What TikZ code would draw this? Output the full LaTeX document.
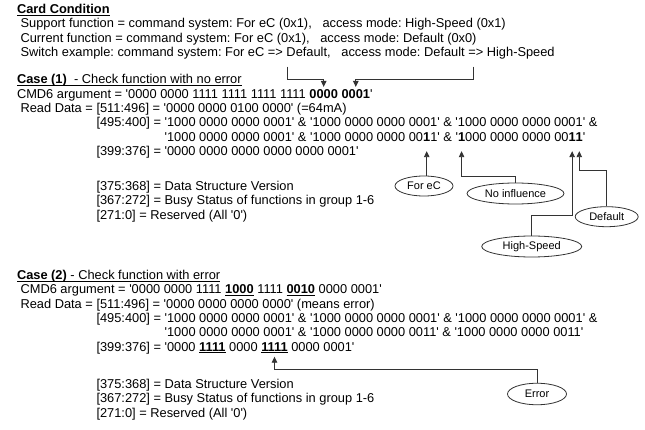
\documentclass[tikz,border=0pt]{standalone}
\usepackage{fontspec}
\setmainfont{Liberation Sans}[Ligatures=TeXOff]
\usetikzlibrary{arrows.meta,shapes.geometric,calc}
\newcommand\uln[1]{\setbox0=\hbox{#1}\rlap{\rule[-2.3pt]{\wd0}{0.9pt}}\box0\relax}
\frenchspacing
\begin{document}
\begin{tikzpicture}[x=1pt,y=-1pt,
  txt/.style={inner sep=0pt, outer sep=0pt, anchor=base west, font=\fontsize{12.83}{14.3}\selectfont},
  lbl/.style={draw=black!80, line width=0.8pt, ellipse, inner sep=0pt, font=\fontsize{11}{12}\selectfont},
  conn/.style={draw=black!80, line width=0.9pt, -{Triangle[length=6pt,width=5.5pt]}}]
\fill[white] (0,0) rectangle (645,430);
\useasboundingbox (0,0) rectangle (645,430);

% ---- Card condition
\node[txt] (cardc) at (17,13.5) {\uln{\textbf{Card Condition}}};
\node[txt] (sup) at (17,27.9) {~Support function = command system: For eC (0x1),~~~access mode: High-Speed (0x1)};
\node[txt] (cur) at (17,42.3) {~Current function = command system: For eC (0x1),~~~access mode: Default (0x0)};
\node[txt] (sw) at (17,56.7) {~Switch example: command system: For eC => Default,~~~access mode: Default => High-Speed};
\coordinate (swL) at (287.3,66.7);
\coordinate (swR) at (473.3,66.7);

% ---- Case 1
\node[txt] (case1) at (17,84) {\uln{\textbf{Case (1)}~~- Check function with no error}};
\node[txt] (cmdA) at (17,98.3) {CMD6 argument = '0000 0000 1111 1111 1111 1111~\null};
\node[txt] (cmdB) at (cmdA.base east) {\textbf{0000}};
\node[txt] (cmdC) at ($(cmdB.base east)+(3.57,0)$) {\textbf{0001}};
\node[txt] (cmdD) at (cmdC.base east) {'};
\node[txt] (rdA) at (17,112.6) {~Read Data =~\null};
\node[txt] (rdB) at (rdA.base east) {[511:496] = '0000 0000 0100 0000' (=64mA)};
\node[txt] (r1a) at (rdB.base west |- 0,126.9) {[495:400] =~\null};
\node[txt] (r1c) at (r1a.base east) {'1000 0000 0000 0001' \& '1000 0000 0000 0001' \& '1000 0000 0000 0001' \&};
\node[txt] (l2a) at (r1c.base west |- 0,141.2) {'1000 0000 0000 0001' \& '1000 0000 0000 00};
\node[txt] (l2b) at (l2a.base east) {\textbf{1}};
\node[txt] (l2c) at (l2b.base east) {1' \& '};
\node[txt] (l2d) at (l2c.base east) {\textbf{1}};
\node[txt] (l2e) at (l2d.base east) {000 0000 0000 00};
\node[txt] (l2f) at (l2e.base east) {\textbf{1}};
\node[txt] (l2g) at (l2f.base east) {\textbf{1}};
\node[txt] (l2h) at (l2g.base east) {'};
\node[txt] (r3) at (rdB.base west |- 0,155.5) {[399:376] = '0000 0000 0000 0000 0000 0001'};
\node[txt] (r4) at (rdB.base west |- 0,190.5) {[375:368] = Data Structure Version};
\node[txt] (r5) at (rdB.base west |- 0,204.8) {[367:272] = Busy Status of functions in group 1-6};
\node[txt] (r6) at (rdB.base west |- 0,219.1) {[271:0] = Reserved (All '0')};

\node[lbl, minimum width=58, minimum height=20] (forec) at (424,186) {For eC};
\node[lbl, minimum width=97, minimum height=21] (noinf) at (515.5,193.5) {No influence};
\node[lbl, minimum width=100, minimum height=21] (hs) at (531.7,246.5) {High-Speed};
\node[lbl, minimum width=63, minimum height=20] (dflt) at (606.7,216.7) {Default};

% ---- Case 2
\node[txt] (case2) at (17,279.5) {\uln{\textbf{Case (2)}~- Check function with error}};
\node[txt] (cmd2) at (17,293.8) {~CMD6 argument = '0000 0000 1111 \uln{\textbf{1000}} 1111 \uln{\textbf{0010}} 0000 0001'};
\node[txt] (rd2A) at (17,308.1) {~Read Data =~\null};
\node[txt] (rd2B) at (rd2A.base east) {[511:496] = '0000 0000 0000 0000' (means error)};
\node[txt] (r21a) at (rd2B.base west |- 0,322.4) {[495:400] =~\null};
\node[txt] (r21c) at (r21a.base east) {'1000 0000 0000 0001' \& '1000 0000 0000 0001' \& '1000 0000 0000 0001' \&};
\node[txt] (l22) at (r21c.base west |- 0,336.7) {'1000 0000 0000 0001' \& '1000 0000 0000 0011' \& '1000 0000 0000 0011'};
\node[txt] (r23a) at (rd2B.base west |- 0,351) {[399:376] = '0000 \uln{\textbf{1111}} 0000~\null};
\node[txt] (r23b) at (r23a.base east) {\uln{\textbf{1111}}};
\node[txt] (r23c) at (r23b.base east) {~0000 0001'};
\node[txt] (r24) at (rd2B.base west |- 0,388.5) {[375:368] = Data Structure Version};
\node[txt] (r25) at (rd2B.base west |- 0,402.8) {[367:272] = Busy Status of functions in group 1-6};
\node[txt] (r26) at (rd2B.base west |- 0,417.1) {[271:0] = Reserved (All '0')};

\node[lbl, minimum width=59, minimum height=21.5] (err) at (537,394) {Error};

% ---- connectors
\draw[conn] (swL) |- (cmdB |- 0,79) -- ($(cmdB.north)+(0,-2.4)$);
\draw[conn] (swR) |- (cmdC |- 0,79) -- ($(cmdC.north)+(0,-2.4)$);
\draw[conn] (l2b |- forec.north) -- ($(l2b.base)+(0,10)$);
\draw[conn] (noinf.north) |- (l2d |- 0,176.7) -- ($(l2d.base)+(0,10)$);
\draw[conn] (hs.north) |- (l2f |- 0,215) -- ($(l2f.base)+(0,10)$);
\draw[conn] (dflt.north) |- (l2g |- 0,170.7) -- ($(l2g.base)+(0,10)$);
\draw[conn] (err.north) |- (r23b |- 0,369) -- ($(r23b.base)+(0,5.7)$);
\end{tikzpicture}
\end{document}
